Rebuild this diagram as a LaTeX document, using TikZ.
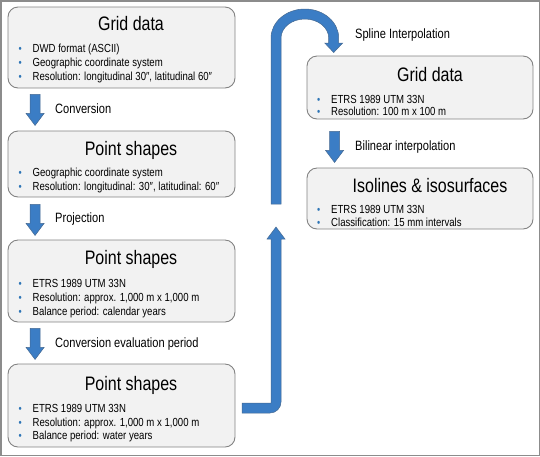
\documentclass[tikz,border=0pt]{standalone}
\usepackage{fontspec}
\setmainfont{Liberation Sans}[FakeStretch=0.82]
\usetikzlibrary{calc}
\definecolor{arrowblue}{RGB}{59,125,197}
\definecolor{arrowedge}{RGB}{70,105,145}
\definecolor{boxfill}{RGB}{242,242,242}
\definecolor{boxedge}{RGB}{130,130,130}
\definecolor{framegray}{RGB}{140,140,140}
\definecolor{bulletblue}{RGB}{46,117,182}
\tikzset{
 box/.style={draw=boxedge, fill=boxfill, rounded corners=10pt, line width=0.9pt, inner sep=0pt},
 title/.style={anchor=base, inner sep=0pt, font=\fontsize{19.5}{20}\selectfont},
 bul/.style={anchor=base west, inner sep=0pt, font=\fontsize{11.7}{14}\selectfont},
 lbl/.style={anchor=base west, inner sep=0pt, font=\fontsize{13.5}{14}\selectfont},
 blockarrow/.style={fill=arrowblue, draw=arrowedge, line width=0.5pt, line join=miter},
 dnarr/.pic={\path[blockarrow] (-5,0) -- (-5,19) -- (-9,19) -- (0,31) -- (9,19) -- (5,19) -- (5,0) -- cycle;},
}
\newcommand\bmark{\makebox[14pt][l]{\textcolor{bulletblue}{\fontsize{11}{11}\selectfont •}}}
\begin{document}
\begin{tikzpicture}[x=1pt,y=-1pt]
\useasboundingbox (0,0) rectangle (540,456);
\draw[framegray, line width=1.5pt] (0.75,0.75) rectangle (539.25,455.25);

% boxes
\node[box, minimum width=227pt, minimum height=81pt] (b1) at (121.5,47.5) {};
\node[box, minimum width=227pt, minimum height=66pt] (b2) at (121.5,164) {};
\node[box, minimum width=227pt, minimum height=82pt] (b3) at (121.5,281) {};
\node[box, minimum width=227pt, minimum height=83pt] (b4) at (121.5,405.5) {};
\node[box, minimum width=226pt, minimum height=63pt] (b5) at (420,87.5) {};
\node[box, minimum width=226pt, minimum height=61pt] (b6) at (420,198.5) {};

% titles
\node[title] (t1) at (131,30.5) {Grid data};
\node[title] (t2) at (131,155) {Point shapes};
\node[title] (t3) at (131,264) {Point shapes};
\node[title] (t4) at (131,390) {Point shapes};
\node[title] (t5) at (430,81) {Grid data};
\node[title] (t6) at (430,192) {Isolines \& isosurfaces};

% bullets
\node[bul] (b1a) at (18.5,52) {\bmark DWD format (ASCII)};
\node[bul] (b1b) at (18.5,66) {\bmark Geographic coordinate system};
\node[bul] (b1c) at (18.5,80) {\bmark Resolution: longitudinal 30″, latitudinal 60″};
\node[bul] (b2a) at (18.5,176) {\bmark Geographic coordinate system};
\node[bul] (b2b) at (18.5,190) {\bmark Resolution: longitudinal: 30″, latitudinal: 60″};
\node[bul] (b3a) at (18.5,287) {\bmark ETRS 1989 UTM 33N};
\node[bul] (b3b) at (18.5,301) {\bmark Resolution: approx. 1,000 m x 1,000 m};
\node[bul] (b3c) at (18.5,315) {\bmark Balance period: calendar years};
\node[bul] (b4a) at (18.5,412) {\bmark ETRS 1989 UTM 33N};
\node[bul] (b4b) at (18.5,426) {\bmark Resolution: approx. 1,000 m x 1,000 m};
\node[bul] (b4c) at (18.5,439.5) {\bmark Balance period: water years};
\node[bul] (b5a) at (317,103.3) {\bmark ETRS 1989 UTM 33N};
\node[bul] (b5b) at (317,115.5) {\bmark Resolution: 100 m x 100 m};
\node[bul] (b6a) at (317,213.3) {\bmark ETRS 1989 UTM 33N};
\node[bul] (b6b) at (317,226) {\bmark Classification: 15 mm intervals};

% labels
\node[lbl] (l1) at (55,113) {Conversion};
\node[lbl] (l2) at (55,222) {Projection};
\node[lbl] (l3) at (55,347) {Conversion evaluation period};
\node[lbl] (l4) at (355,38) {Spline Interpolation};
\node[lbl] (l5) at (355,150) {Bilinear interpolation};

% down block arrows
\pic at ($(b1.south west)+(27.5,6)$) {dnarr};
\pic at ($(b2.south west)+(27.5,7)$) {dnarr};
\pic at ($(b3.south west)+(27.5,6)$) {dnarr};
\pic at ($(b5.south west)+(28,12)$) {dnarr};

% bent arrow from last box upward
\path[blockarrow] (242,403) -- (271,403) -- (271,239) -- (267,239) -- (276,227)
  -- (285,239) -- (281,239) -- (281,402) arc[start angle=0, end angle=90, radius=11]
  -- (242,413) -- cycle;

% upper shaft with curved head into the right grid box
\path[blockarrow] (271,204) -- (271,38)
  arc[start angle=180, end angle=360, x radius=33.85, y radius=29]
  -- (338.7,43) -- (342.7,43) -- (333.7,52.5) -- (324.7,43) -- (328.7,43) -- (328.7,38)
  arc[start angle=0, end angle=-180, x radius=23.85, y radius=19]
  -- (281,204) -- cycle;
\end{tikzpicture}
\end{document}
